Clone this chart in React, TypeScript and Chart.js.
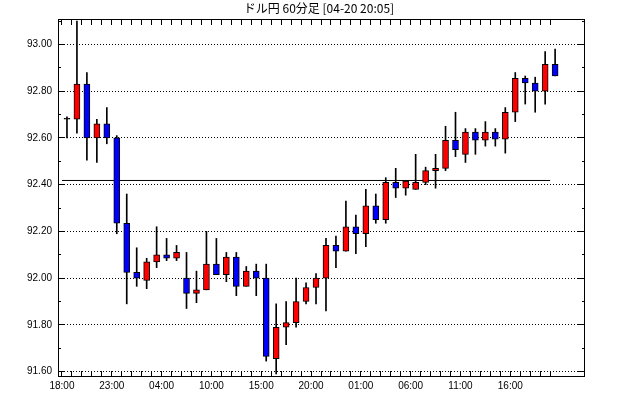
import React, { useEffect, useRef } from "react";
import { Chart, registerables } from "chart.js";

Chart.register(...registerables);

const chartTitle = "ドル円 60分足 [04-20 20:05]";
const timeLabels = ["18:00", "23:00", "04:00", "10:00", "15:00", "20:00", "01:00", "06:00", "11:00", "16:00"];

const opens = [
  92.68, 92.68, 92.83, 92.60, 92.66, 92.60, 92.235, 92.025, 91.99, 92.07,
  92.10, 92.085, 92.00, 91.935, 91.95, 92.06, 92.015, 92.09, 91.965, 92.03,
  92.00, 91.655, 91.79, 91.81, 91.90, 91.96, 92.00, 92.14, 92.115, 92.22,
  92.19, 92.31, 92.25, 92.41, 92.385, 92.38, 92.41, 92.46, 92.47, 92.59,
  92.53, 92.625, 92.59, 92.625, 92.595, 92.71, 92.855, 92.835, 92.80, 92.915,
];
const highs = [
  92.69, 93.10, 92.88, 92.68, 92.73, 92.61, 92.36, 92.13, 92.085, 92.22,
  92.17, 92.14, 92.11, 92.03, 92.20, 92.17, 92.11, 92.11, 92.05, 92.06,
  92.06, 91.89, 91.90, 92.00, 91.98, 92.02, 92.17, 92.18, 92.33, 92.27,
  92.38, 92.36, 92.43, 92.47, 92.415, 92.53, 92.475, 92.53, 92.65, 92.71,
  92.64, 92.64, 92.67, 92.64, 92.73, 92.88, 92.865, 92.86, 92.97, 92.98,
];
const lows = [
  92.60, 92.62, 92.505, 92.495, 92.575, 92.19, 91.89, 91.965, 91.955, 92.045,
  92.075, 92.075, 91.87, 91.895, 91.95, 92.015, 91.985, 91.925, 91.965, 91.925,
  91.645, 91.59, 91.715, 91.79, 91.89, 91.89, 91.86, 92.045, 92.115, 92.105,
  92.135, 92.235, 92.235, 92.345, 92.355, 92.38, 92.40, 92.385, 92.46, 92.52,
  92.495, 92.53, 92.565, 92.565, 92.535, 92.67, 92.745, 92.71, 92.745, 92.865,
];
const closes = [
  92.68, 92.83, 92.60, 92.66, 92.60, 92.235, 92.025, 92.00, 92.07, 92.10,
  92.085, 92.11, 91.935, 91.95, 92.06, 92.015, 92.09, 91.965, 92.03, 92.00,
  91.665, 91.79, 91.81, 91.90, 91.96, 92.00, 92.14, 92.115, 92.22, 92.19,
  92.31, 92.25, 92.41, 92.385, 92.415, 92.41, 92.46, 92.47, 92.59, 92.55,
  92.625, 92.59, 92.625, 92.595, 92.71, 92.855, 92.835, 92.80, 92.915, 92.865,
];
const refLevel = 92.418;
const priceTicks = [91.6, 91.8, 92.0, 92.2, 92.4, 92.6, 92.8, 93.0];
const minorPriceTicks = [91.7, 91.9, 92.1, 92.3, 92.5, 92.7, 92.9, 93.1];

const FONT = "'Liberation Sans', Arial, sans-serif";

const framePlugin = {
  id: "frame",
  afterDraw(chart: any) {
    const { ctx, chartArea } = chart;
    const { left, right, top, bottom } = chartArea;
    const xs = chart.scales.x;
    const ys = chart.scales.y;
    const al = (p: number) => Math.round(p - 0.5) + 0.5;
    ctx.save();
    ctx.strokeStyle = "#000";
    ctx.lineWidth = 1;
    ctx.setLineDash([]);
    ctx.beginPath();
    for (let i = 0; i < closes.length; i++) {
      const px = al(xs.getPixelForValue(i - 0.5));
      ctx.moveTo(px, top);
      ctx.lineTo(px, top + 6);
      ctx.moveTo(px, bottom);
      ctx.lineTo(px, bottom - 6);
    }
    priceTicks.forEach((v) => {
      const py = al(ys.getPixelForValue(v));
      ctx.moveTo(left, py);
      ctx.lineTo(left + 6, py);
      ctx.moveTo(right, py);
      ctx.lineTo(right - 7, py);
    });
    minorPriceTicks.forEach((v) => {
      const py = al(ys.getPixelForValue(v));
      if (py < top || py > bottom) return;
      ctx.moveTo(left, py);
      ctx.lineTo(left + 3, py);
      ctx.moveTo(right, py);
      ctx.lineTo(right - 3, py);
    });
    ctx.stroke();
    ctx.strokeRect(left + 0.5, top + 0.5, right - left - 1, bottom - top - 1);
    ctx.fillStyle = "#000";
    ctx.font = "12px 'Noto Sans CJK JP', sans-serif";
    ctx.textAlign = "center";
    ctx.textBaseline = "middle";
    ctx.fillText(chartTitle, 319, 8);
    ctx.restore();
  },
};

export default function App() {
  const ref = useRef<HTMLCanvasElement | null>(null);
  useEffect(() => {
    if (!ref.current) return;
    const idx = closes.map((_, i) => i);
    const chart = new Chart(ref.current, {
      type: "bar",
      data: {
        datasets: [
          {
            type: "bar",
            label: "body",
            order: 0,
            grouped: false,
            data: idx.map((i) => ({ x: i, y: [opens[i], closes[i]] })) as any,
            backgroundColor: idx.map((i) =>
              closes[i] > opens[i] ? "#ff0000" : closes[i] < opens[i] ? "#0000ff" : "#000000"
            ),
            borderColor: "#000",
            borderWidth: 1,
            borderSkipped: false,
            barThickness: 6,
            minBarLength: 1,
          } as any,
          {
            type: "bar",
            label: "wick",
            order: 1,
            grouped: false,
            data: idx.map((i) => ({ x: i, y: [lows[i], highs[i]] })) as any,
            backgroundColor: "#000",
            borderWidth: 0,
            barThickness: 1,
          } as any,
          {
            type: "line",
            label: "ref",
            order: 2,
            data: [
              { x: -0.5, y: refLevel },
              { x: closes.length - 1.5, y: refLevel },
            ],
            borderColor: "#000",
            borderWidth: 1,
            pointRadius: 0,
          } as any,
        ],
      },
      options: {
        animation: false,
        responsive: false,
        devicePixelRatio: 1,
        layout: { padding: { top: 19, right: 41, bottom: 0, left: 0 } },
        plugins: {
          legend: { display: false },
          tooltip: { enabled: false },
          title: { display: false },
        },
        scales: {
          x: {
            type: "linear",
            min: -0.9,
            max: 52,
            offset: false,
            afterFit: (s: any) => {
              s.height = 22;
            },
            afterBuildTicks: (s: any) => {
              s.ticks = timeLabels.map((_, k) => ({ value: k * 5 - 0.5 }));
            },
            ticks: {
              autoSkip: false,
              maxRotation: 0,
              padding: 3,
              color: "#000",
              font: { family: FONT, size: 10 },
              callback: (_v: any, index: number) => timeLabels[index],
            },
            grid: { display: false, drawTicks: false },
            border: { display: false },
          },
          y: {
            type: "linear",
            min: 91.577,
            max: 93.109,
            afterFit: (s: any) => {
              s.width = 58;
            },
            afterBuildTicks: (s: any) => {
              s.ticks = priceTicks.map((v) => ({ value: v }));
            },
            ticks: {
              autoSkip: false,
              padding: 6,
              color: "#000",
              font: { family: FONT, size: 10 },
              callback: (v: any) => Number(v).toFixed(2),
            },
            grid: { color: "#000", lineWidth: 1, drawTicks: false },
            border: { display: false, dash: [1, 2] },
          },
        },
      } as any,
      plugins: [framePlugin],
    });
    return () => chart.destroy();
  }, []);
  return (
    <div style={{ position: "fixed", left: 0, top: 0, width: 626, height: 399, background: "#fff" }}>
      <canvas ref={ref} width={626} height={399} style={{ display: "block" }} />
    </div>
  );
}
